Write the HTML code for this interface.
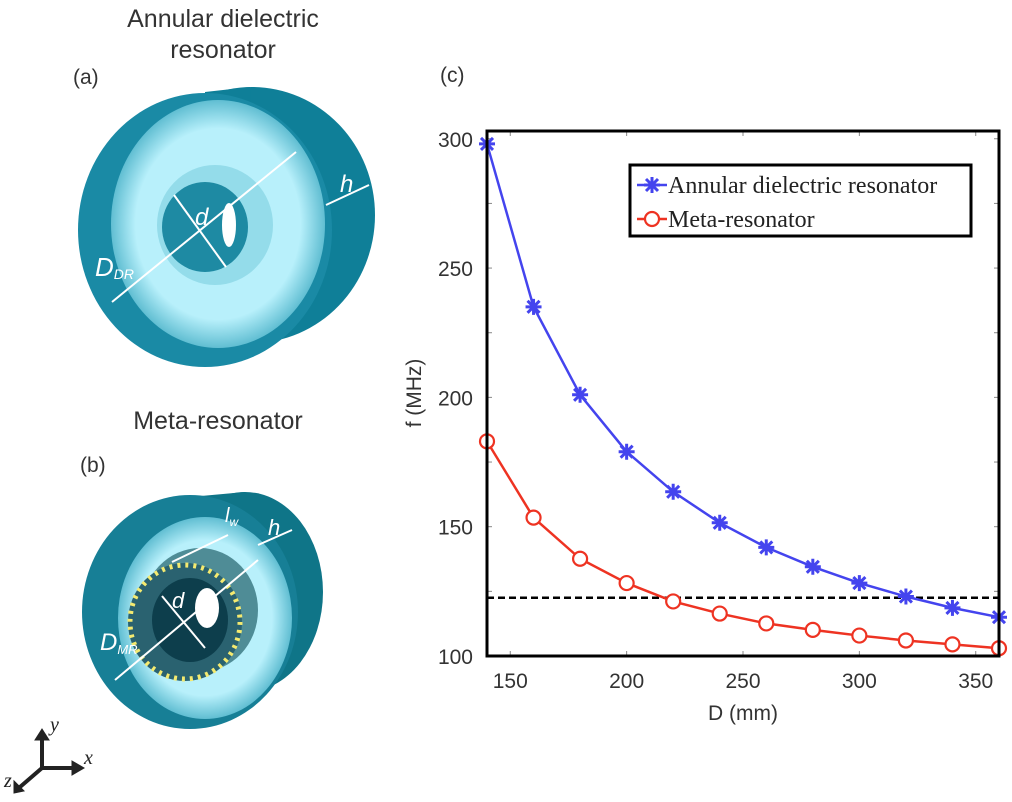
<!DOCTYPE html>
<html><head><meta charset="utf-8"><style>
body{margin:0;background:#fff;}
svg{display:block;}
.t{font-family:"Liberation Sans",sans-serif;fill:#333;}
</style></head><body>
<svg id="s" width="1012" height="802" xmlns="http://www.w3.org/2000/svg">
<defs>
<radialGradient id="face" cx="0.5" cy="0.5" r="0.55"><stop offset="0.7" stop-color="#b8f0fb"/><stop offset="1" stop-color="#3aa8c0"/></radialGradient>
</defs>
<!-- panel a -->
<g>
<text class="t" x="223" y="27" font-size="25" text-anchor="middle" fill="#222">Annular dielectric</text>
<text class="t" x="223" y="58" font-size="25" text-anchor="middle" fill="#222">resonator</text>
<text class="t" x="73" y="84" font-size="21">(a)</text>
<ellipse cx="252" cy="215" rx="123" ry="128" fill="#0f7f98"/>
<path d="M205 92 L250 87 L252 343 L205 367 Z" fill="#0f7f98"/>
<ellipse cx="205" cy="230" rx="127" ry="137" fill="#1a8aa5"/>
<ellipse cx="218" cy="224" rx="107" ry="124" fill="url(#face)"/>
<ellipse cx="215" cy="225" rx="58" ry="60" fill="#7ccfe0" opacity="0.6"/>
<ellipse cx="205" cy="227" rx="43" ry="45" fill="#1e8aa3"/>
<ellipse cx="229" cy="225" rx="7" ry="22" fill="#fff"/>
<line x1="112" y1="302" x2="296" y2="152" stroke="#fff" stroke-width="2"/>
<line x1="174" y1="195" x2="226" y2="267" stroke="#fff" stroke-width="2"/>
<line x1="326" y1="205" x2="369" y2="185" stroke="#fff" stroke-width="2"/>
<text x="195" y="225" font-size="24" font-style="italic" fill="#fff" font-family="Liberation Sans">d</text>
<text x="95" y="276" font-size="26" font-style="italic" fill="#fff" font-family="Liberation Sans">D<tspan font-size="14" dy="3">DR</tspan></text>
<text x="340" y="192" font-size="24" font-style="italic" fill="#fff" font-family="Liberation Sans">h</text>
</g>
<!-- panel b -->
<g>
<text class="t" x="218" y="429" font-size="25" text-anchor="middle" fill="#222">Meta-resonator</text>
<text class="t" x="80" y="472" font-size="21">(b)</text>
<ellipse cx="245" cy="592" rx="78" ry="100" fill="#0f7588"/>
<path d="M190 497 L245 492 L245 692 L190 728 Z" fill="#0f7588"/>
<ellipse cx="190" cy="612" rx="108" ry="117" fill="#177f96"/>
<ellipse cx="205" cy="618" rx="87" ry="101" fill="url(#face)"/>
<ellipse cx="200" cy="610" rx="58" ry="62" fill="#4f8c96"/>
<ellipse cx="185" cy="622" rx="57" ry="59" fill="#2a6270"/>
<ellipse cx="185" cy="622" rx="55" ry="57" fill="none" stroke="#f4ea70" stroke-width="5" stroke-dasharray="3 5"/>
<ellipse cx="190" cy="620" rx="38" ry="42" fill="#0d3e4c"/>
<ellipse cx="207" cy="608" rx="12" ry="20" fill="#fff"/>
<line x1="115" y1="680" x2="258" y2="560" stroke="#fff" stroke-width="2"/>
<line x1="162" y1="596" x2="205" y2="648" stroke="#fff" stroke-width="2"/>
<line x1="172" y1="562" x2="228" y2="535" stroke="#fff" stroke-width="2"/>
<line x1="258" y1="545" x2="292" y2="530" stroke="#fff" stroke-width="2"/>
<text x="172" y="608" font-size="22" font-style="italic" fill="#fff" font-family="Liberation Sans">d</text>
<text x="100" y="650" font-size="24" font-style="italic" fill="#fff" font-family="Liberation Sans">D<tspan font-size="13" dy="4">MR</tspan></text>
<text x="268" y="535" font-size="22" font-style="italic" fill="#fff" font-family="Liberation Sans">h</text>
<text x="225" y="522" font-size="20" font-style="italic" fill="#fff" font-family="Liberation Sans">l<tspan font-size="12" dy="4">w</tspan></text>
</g>
<!-- axes triad -->
<g stroke="#222" stroke-width="4" fill="none">
<line x1="42" y1="768" x2="42" y2="738"/><line x1="42" y1="768" x2="74" y2="768"/><line x1="42" y1="768" x2="20" y2="787"/>
<path d="M35 740 L42 729 L49 740 Z" fill="#222" stroke-width="1"/><path d="M72 761 L84 768 L72 775 Z" fill="#222" stroke-width="1"/>
<path d="M14 781 L14 793 L24 791 Z" fill="#222" stroke-width="1"/>
</g>
<text x="50" y="731" font-size="20" font-style="italic" font-family="Liberation Serif" fill="#222">y</text>
<text x="84" y="764" font-size="20" font-style="italic" font-family="Liberation Serif" fill="#222">x</text>
<text x="4" y="787" font-size="20" font-style="italic" font-family="Liberation Serif" fill="#222">z</text>
<text class="t" x="440" y="82" font-size="21">(c)</text>
<g id="chart"></g>
</svg>
<script>
const xValues=[140,160,180,200,220,240,260,280,300,320,340,360];
const blueValues=[298,235,201,179,163.5,151.5,142,134.5,128.2,123,118.6,115];
const redValues=[183,153.5,137.6,128.2,121.1,116.4,112.6,110.1,107.9,106,104.5,103];
const dashedLevel=[122.5];
const xTicks=[150,200,250,300,350];
const yTicks=[100,150,200,250,300];
const L=487,R=999,T=131,B=656,XMIN=140,XMAX=360,YMIN=100,YMAX=303;
const sx=v=>L+(v-XMIN)/(XMAX-XMIN)*(R-L);
const sy=v=>B-(v-YMIN)/(YMAX-YMIN)*(B-T);
const NS="http://www.w3.org/2000/svg";
const g=document.getElementById('chart');
function mk(tag,attrs,parent){const e=document.createElementNS(NS,tag);for(const k in attrs)e.setAttribute(k,attrs[k]);(parent||g).appendChild(e);return e;}
xTicks.forEach(v=>{
 mk('line',{x1:sx(v),x2:sx(v),y1:B,y2:B-5,stroke:'#888'});
 mk('line',{x1:sx(v),x2:sx(v),y1:T,y2:T+5,stroke:'#888'});
 const t=mk('text',{x:sx(v),y:B+32,'text-anchor':'middle','font-size':21,class:'t'});t.textContent=v;
 
 
});
for(let v=100;v<=300;v+=25){
 mk('line',{x1:L,x2:L+5,y1:sy(v),y2:sy(v),stroke:'#888'});
 mk('line',{x1:R,x2:R-5,y1:sy(v),y2:sy(v),stroke:'#888'});
}
yTicks.forEach(v=>{
 const t=mk('text',{x:L-14,y:sy(v)+8,'text-anchor':'end','font-size':21,class:'t'});t.textContent=v;
 
 
});
const dl=mk('line',{x1:L,x2:R,y1:sy(dashedLevel[0]),y2:sy(dashedLevel[0]),stroke:'#000','stroke-width':2.5,'stroke-dasharray':'7 4'});


function series(vals,color,name,marker){
 const d=vals.map((v,i)=>(i?'L':'M')+sx(xValues[i])+' '+sy(v)).join(' ');
 const p=mk('path',{d:d,fill:'none',stroke:color,'stroke-width':2.5});
 
 
 vals.forEach((v,i)=>{
  const x=sx(xValues[i]),y=sy(v);
  let m;
  if(marker==='star'){m=mk('path',{d:`M${x-8} ${y}H${x+8}M${x} ${y-8}V${y+8}M${x-6} ${y-6}L${x+6} ${y+6}M${x-6} ${y+6}L${x+6} ${y-6}`,stroke:color,'stroke-width':3});}
  else {m=mk('circle',{cx:x,cy:y,r:7,fill:'#fff',stroke:color,'stroke-width':2.2});}
  
  
 });
}
series(blueValues,'#4444ee','annular-series','star');
series(redValues,'#ee3322','meta-series','circle');
const fr=mk('rect',{x:L,y:T,width:R-L,height:B-T,fill:'none',stroke:'#000','stroke-width':3});


const lg=mk('g',{});


mk('rect',{x:630,y:165,width:341,height:71,fill:'#fff',stroke:'#000','stroke-width':3},lg);
mk('line',{x1:637,x2:667,y1:185,y2:185,stroke:'#4444ee','stroke-width':2.5},lg);
mk('path',{d:'M644 185H660M652 177V193M646 179L658 191M646 191L658 179',stroke:'#4444ee','stroke-width':3},lg);
let t1=mk('text',{x:668,y:193,'font-size':24,'font-family':'Liberation Serif',fill:'#222'},lg);t1.textContent='Annular dielectric resonator';


mk('line',{x1:637,x2:667,y1:219,y2:219,stroke:'#ee3322','stroke-width':2.5},lg);
mk('circle',{cx:652,cy:219,r:7,fill:'#fff',stroke:'#ee3322','stroke-width':2.2},lg);
let t2=mk('text',{x:668,y:227,'font-size':24,'font-family':'Liberation Serif',fill:'#222'},lg);t2.textContent='Meta-resonator';


const xt=mk('text',{x:743,y:720,'text-anchor':'middle','font-size':21,class:'t'});xt.textContent='D (mm)';


const yt=mk('text',{x:0,y:0,'text-anchor':'middle','font-size':21,class:'t',transform:'translate(421,393) rotate(-90)'});yt.textContent='f (MHz)';


</script>
</body></html>
